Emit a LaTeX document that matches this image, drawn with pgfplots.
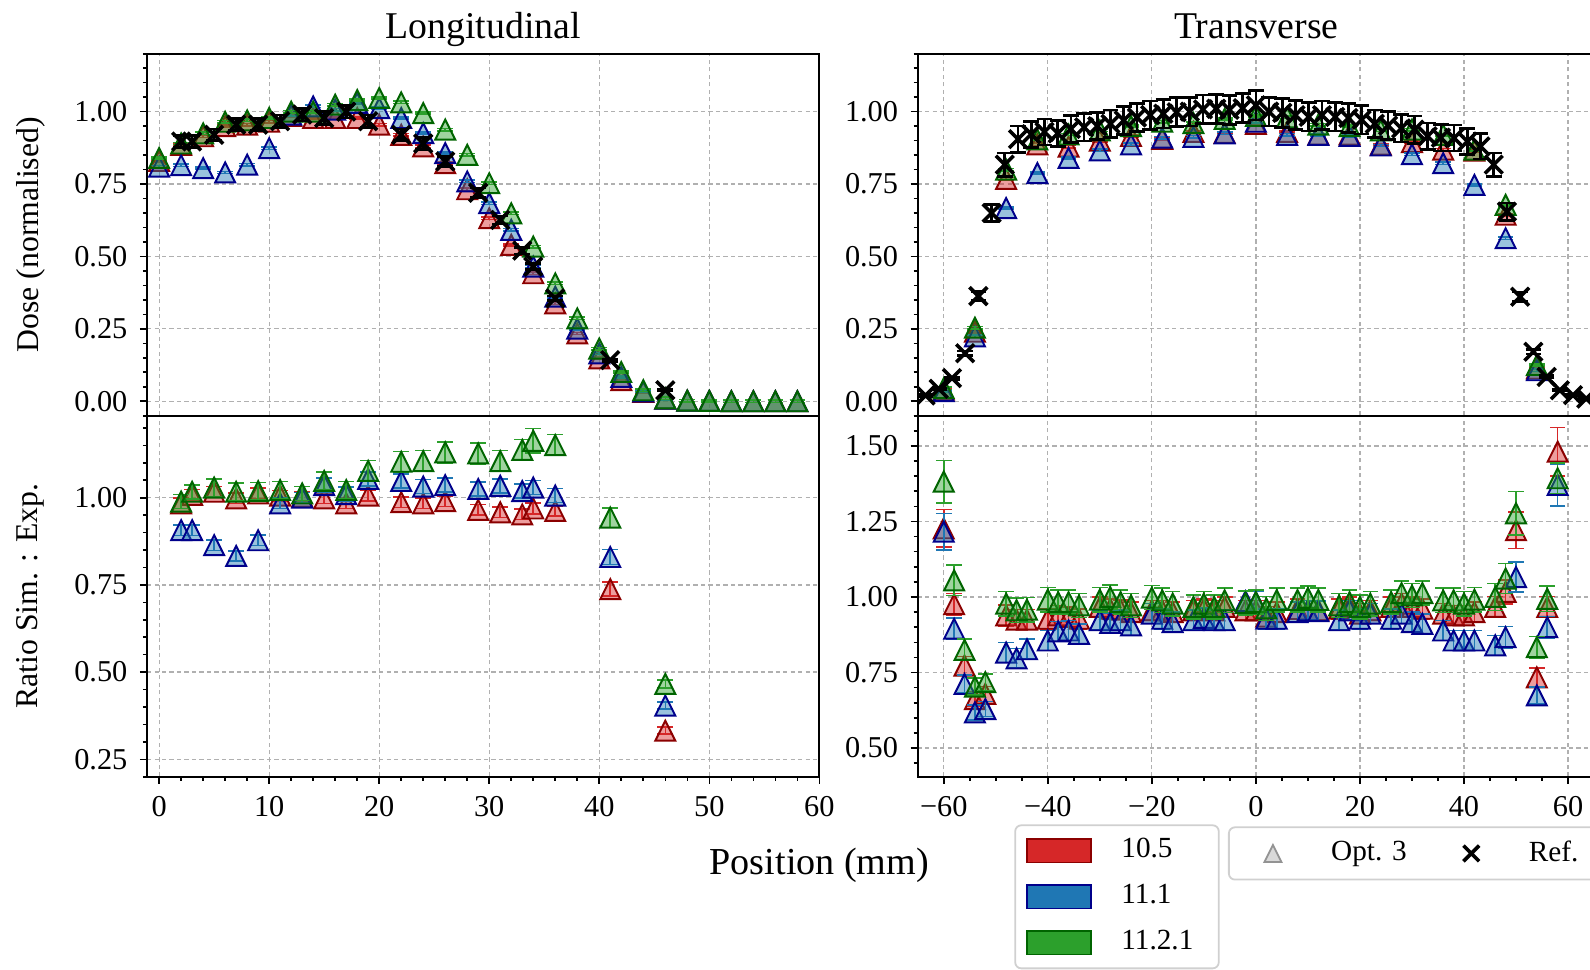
\documentclass[border=0pt]{standalone}
\usepackage{fontspec}
\setmainfont{Liberation Serif}
\usepackage{pgfplots}
\usepackage{pgfplotstable}
\pgfplotsset{compat=1.18}

\definecolor{cR}{HTML}{D62728}
\definecolor{cB}{HTML}{1F77B4}
\definecolor{cG}{HTML}{2CA02C}
\definecolor{cRd}{HTML}{8B0000}
\definecolor{cBd}{HTML}{00008B}
\definecolor{cGd}{HTML}{006400}
\definecolor{cGrid}{HTML}{B0B0B0}
\definecolor{cLeg}{HTML}{D0D0D0}

% matplotlib-like '^' and 'x' markers
\pgfdeclareplotmark{tri}{%
  \pgfpathmoveto{\pgfqpoint{0pt}{\pgfplotmarksize}}%
  \pgfpathlineto{\pgfqpoint{-\pgfplotmarksize}{-\pgfplotmarksize}}%
  \pgfpathlineto{\pgfqpoint{\pgfplotmarksize}{-\pgfplotmarksize}}%
  \pgfpathclose\pgfusepathqfillstroke}
\pgfdeclareplotmark{cross}{%
  \pgfpathmoveto{\pgfqpoint{-\pgfplotmarksize}{-\pgfplotmarksize}}%
  \pgfpathlineto{\pgfqpoint{\pgfplotmarksize}{\pgfplotmarksize}}%
  \pgfpathmoveto{\pgfqpoint{-\pgfplotmarksize}{\pgfplotmarksize}}%
  \pgfpathlineto{\pgfqpoint{\pgfplotmarksize}{-\pgfplotmarksize}}%
  \pgfusepathqstroke}

% longitudinal, simulations (every 2 mm)
\pgfplotstableread{
x r b g
0 0.83 0.81 0.84
2 0.885 0.815 0.89
4 0.915 0.805 0.925
6 0.95 0.79 0.965
8 0.955 0.817 0.97
10 0.965 0.874 0.978
12 0.985 0.99 1.00
14 0.978 1.018 1.00
16 0.978 1.007 1.024
18 0.978 1.03 1.04
20 0.955 1.012 1.047
22 0.92 0.978 1.032
24 0.88 0.926 0.995
26 0.822 0.857 0.938
28 0.732 0.759 0.851
30 0.632 0.684 0.753
32 0.54 0.592 0.649
34 0.442 0.465 0.534
36 0.338 0.361 0.407
38 0.234 0.251 0.286
40 0.148 0.165 0.182
42 0.073 0.084 0.101
44 0.032 0.034 0.038
46 0.009 0.009 0.01
48 0.002 0.002 0.002
50 0.001 0.001 0.001
52 0 0 0
54 0 0 0
56 0 0 0
58 0 0 0
}\tlsim

% longitudinal, measurement
\pgfplotstableread{
x y e
2 0.897 0.02
3 0.897 0.02
5 0.92 0.02
7 0.955 0.021
9 0.955 0.021
11 0.967 0.021
13 0.99 0.022
15 0.978 0.022
17 1.00 0.022
19 0.967 0.021
22 0.92 0.02
24 0.89 0.02
26 0.828 0.018
29 0.72 0.016
31 0.626 0.014
33 0.52 0.012
34 0.465 0.01
36 0.355 0.008
41 0.142 0.004
46 0.038 0.002
}\tlref

% transverse, simulations (every 6 mm)
\pgfplotstableread{
x r b g
-60 0.04 0.035 0.045
-54 0.24 0.224 0.254
-48 0.768 0.667 0.80
-42 0.887 0.788 0.904
-36 0.879 0.84 0.921
-30 0.90 0.866 0.935
-24 0.916 0.887 0.95
-18 0.906 0.91 0.965
-12 0.93 0.913 0.96
-6 0.927 0.925 0.975
0 0.958 0.965 0.985
6 0.93 0.92 0.98
12 0.921 0.92 0.955
18 0.921 0.916 0.95
24 0.886 0.883 0.935
30 0.895 0.853 0.938
36 0.869 0.822 0.92
42 0.865 0.747 0.869
48 0.644 0.563 0.678
54 0.113 0.107 0.125
}\trsim

% transverse, measurement (2.54 mm pitch)
\pgfplotstableread{
x y e
-63.50 0.020 0.003
-60.96 0.043 0.003
-58.42 0.080 0.004
-55.88 0.166 0.008
-53.34 0.363 0.016
-50.80 0.650 0.030
-48.26 0.817 0.040
-45.72 0.905 0.045
-43.18 0.922 0.045
-40.64 0.930 0.045
-38.10 0.925 0.045
-35.56 0.940 0.047
-33.02 0.946 0.047
-30.48 0.950 0.047
-27.94 0.958 0.048
-25.40 0.970 0.048
-22.86 0.980 0.049
-20.32 0.988 0.049
-17.78 0.993 0.050
-15.24 0.998 0.050
-12.70 1.000 0.050
-10.16 1.008 0.050
-7.62 1.010 0.050
-5.08 1.006 0.050
-2.54 1.012 0.050
0.00 1.022 0.051
2.54 1.000 0.050
5.08 0.996 0.050
7.62 0.988 0.050
10.16 0.982 0.049
12.70 0.988 0.049
15.24 0.982 0.049
17.78 0.978 0.049
20.32 0.972 0.049
22.86 0.958 0.048
25.40 0.952 0.048
27.94 0.942 0.047
30.48 0.938 0.047
33.02 0.915 0.046
35.56 0.910 0.046
38.10 0.909 0.045
40.64 0.897 0.045
43.18 0.880 0.044
45.72 0.817 0.040
48.26 0.655 0.030
50.80 0.361 0.016
53.34 0.171 0.008
55.88 0.084 0.004
58.42 0.038 0.003
60.96 0.021 0.003
63.50 0.009 0.003
}\trref

% longitudinal ratio sim : exp
\pgfplotstableread{
x r er b eb g eg
2 0.984 0.015 0.907 0.015 0.989 0.020
3 1.008 0.015 0.907 0.015 1.017 0.020
5 1.017 0.015 0.864 0.015 1.029 0.025
7 0.998 0.015 0.833 0.015 1.017 0.025
9 1.012 0.015 0.878 0.015 1.019 0.025
11 1.006 0.015 0.984 0.015 1.022 0.025
13 1.003 0.015 1.000 0.015 1.012 0.020
15 0.998 0.015 1.036 0.020 1.048 0.025
17 0.984 0.015 1.010 0.020 1.022 0.025
19 1.006 0.015 1.054 0.020 1.077 0.030
22 0.987 0.015 1.048 0.020 1.103 0.030
24 0.984 0.015 1.032 0.020 1.105 0.030
26 0.990 0.015 1.036 0.020 1.130 0.030
29 0.965 0.015 1.025 0.020 1.127 0.030
31 0.958 0.015 1.034 0.020 1.105 0.030
33 0.952 0.015 1.019 0.020 1.137 0.030
34 0.969 0.015 1.029 0.020 1.163 0.035
36 0.962 0.015 1.006 0.020 1.151 0.030
41 0.738 0.020 0.830 0.022 0.943 0.028
46 0.332 0.010 0.404 0.010 0.466 0.012
}\blrat

% transverse ratio sim : exp
\pgfplotstableread{
x r er b eb g eg
-60 1.227 0.062 1.216 0.060 1.382 0.070
-58 0.976 0.035 0.895 0.035 1.055 0.050
-56 0.773 0.030 0.712 0.030 0.825 0.035
-54 0.662 0.025 0.618 0.025 0.703 0.028
-52 0.679 0.025 0.629 0.025 0.718 0.028
-48 0.939 0.035 0.816 0.033 0.978 0.040
-46 0.925 0.033 0.797 0.033 0.956 0.040
-44 0.925 0.033 0.827 0.033 0.958 0.040
-40 0.928 0.033 0.856 0.033 0.991 0.040
-38 0.939 0.033 0.886 0.033 0.983 0.040
-36 0.934 0.033 0.889 0.033 0.983 0.040
-34 0.928 0.033 0.878 0.033 0.972 0.040
-30 0.967 0.033 0.923 0.033 0.991 0.040
-28 0.961 0.033 0.914 0.033 1.000 0.040
-26 0.958 0.033 0.923 0.033 0.983 0.040
-24 0.950 0.033 0.906 0.033 0.972 0.040
-20 0.956 0.033 0.945 0.033 0.998 0.040
-18 0.956 0.033 0.928 0.033 0.989 0.040
-16 0.950 0.033 0.917 0.033 0.978 0.040
-12 0.956 0.033 0.923 0.033 0.967 0.040
-10 0.961 0.033 0.931 0.033 0.978 0.040
-8 0.956 0.033 0.923 0.033 0.967 0.040
-6 0.967 0.033 0.923 0.033 0.989 0.040
-2 0.956 0.033 0.986 0.035 0.980 0.040
0 0.956 0.033 0.983 0.035 0.983 0.040
2 0.935 0.033 0.928 0.033 0.962 0.040
4 0.950 0.033 0.928 0.033 0.990 0.040
8 0.960 0.033 0.950 0.033 0.990 0.040
10 0.956 0.033 0.956 0.033 0.997 0.040
12 0.956 0.033 0.953 0.033 0.990 0.040
16 0.961 0.033 0.923 0.033 0.972 0.040
18 0.967 0.033 0.956 0.033 0.983 0.040
20 0.945 0.033 0.928 0.033 0.967 0.040
22 0.956 0.033 0.945 0.033 0.978 0.040
26 0.967 0.033 0.928 0.033 0.983 0.040
28 0.978 0.033 0.945 0.033 1.013 0.040
30 0.967 0.033 0.917 0.033 1.005 0.040
32 0.961 0.033 0.911 0.033 1.013 0.040
36 0.945 0.033 0.889 0.033 0.989 0.040
38 0.939 0.033 0.856 0.033 0.989 0.040
40 0.939 0.033 0.856 0.033 0.978 0.040
42 0.950 0.033 0.856 0.033 0.991 0.040
46 0.967 0.035 0.840 0.033 1.000 0.045
48 1.017 0.040 0.867 0.035 1.061 0.050
50 1.221 0.060 1.066 0.050 1.277 0.072
54 0.734 0.030 0.674 0.028 0.834 0.035
56 0.967 0.035 0.900 0.035 0.994 0.042
58 1.481 0.080 1.371 0.070 1.393 0.050
}\brrat

\pgfplotsset{
  panel/.style={scale only axis, anchor=south west,
    axis line style={line width=0.6pt},
    tick align=outside, xtick pos=bottom, ytick pos=left,
    grid=major,
    major grid style={cGrid, line width=0.35pt, dash pattern=on 1.2pt off 0.9pt},
    major tick length=0.7mm, minor tick length=0.4mm,
    tick style={black, line width=0.45pt},
    tick label style={font=\fontsize{8.5}{10}\selectfont},
    /pgf/number format/assume math mode=true,
    yticklabel style={/pgf/number format/.cd, fixed, fixed zerofill, precision=2},
    clip marker paths=true,
    every axis title/.style={at={(0.5,1)}, anchor=base, yshift=1.5mm,
      font=\fontsize{10.6}{12}\selectfont},
    every axis y label/.style={at={(axis description cs:-0.173,0.5)}, rotate=90,
      anchor=center, font=\fontsize{8.9}{10}\selectfont}},
  simbase/.style={only marks, mark=tri, mark size=2.8pt,
    error bars/y dir=both},
  simR/.style={simbase, mark options={draw=cRd, fill=cR, fill opacity=0.45, line width=0.55pt},
    error bars/error bar style={cR, line width=0.45pt},
    error bars/error mark options={rotate=90, cR, mark size=2.2pt, line width=0.45pt}},
  simB/.style={simbase, mark options={draw=cBd, fill=cB, fill opacity=0.45, line width=0.55pt},
    error bars/error bar style={cB, line width=0.45pt},
    error bars/error mark options={rotate=90, cB, mark size=2.2pt, line width=0.45pt}},
  simG/.style={simbase, mark options={draw=cGd, fill=cG, fill opacity=0.45, line width=0.55pt},
    error bars/error bar style={cG, line width=0.45pt},
    error bars/error mark options={rotate=90, cG, mark size=2.2pt, line width=0.45pt}},
  refx/.style={only marks, mark=cross, mark size=2.5pt,
    mark options={black, line width=1.0pt},
    error bars/y dir=both, error bars/y explicit,
    error bars/error bar style={black, line width=0.75pt},
    error bars/error mark options={rotate=90, black, mark size=2.2pt, line width=0.75pt}},
}

\begin{document}
\begin{tikzpicture}
\path[use as bounding box] (0,0) rectangle (156.8mm,95.6mm);

% ---------- top left ----------
\begin{axis}[panel, at={(14.5mm,54.6mm)}, width=66.3mm, height=35.7mm,
  xmin=-1.1, xmax=60, ymin=-0.05, ymax=1.2,
  xtick={0,10,...,60}, xticklabels={}, xmajorticks=false,
  ytick={0,0.25,0.5,0.75,1}, minor ytick={-0.05,0,...,1.21},
  title={Longitudinal}, ylabel={Dose (normalised)}]
\addplot[simR, error bars/y fixed=0.004] table[x=x,y=r]{\tlsim};
\addplot[simB, error bars/y fixed=0.004] table[x=x,y=b]{\tlsim};
\addplot[simG, error bars/y fixed=0.004] table[x=x,y=g]{\tlsim};
\addplot[refx] table[x=x,y=y,y error=e]{\tlref};
\end{axis}

% ---------- bottom left ----------
\begin{axis}[panel, at={(14.5mm,19.0mm)}, width=66.3mm, height=35.6mm,
  xmin=-1.1, xmax=60, ymin=0.2, ymax=1.235,
  xtick={0,10,...,60}, minor x tick num=4,
  ytick={0.25,0.5,0.75,1}, minor ytick={0.2,0.25,...,1.21},
  ylabel={Ratio Sim. : Exp.}, xlabel={Position (mm)},
  every axis x label/.style={at={(axis description cs:1.0,-0.244)}, anchor=center,
    font=\fontsize{10.7}{12}\selectfont},
  legend columns=2,
  legend style={at={(1.6078,-0.1376)}, anchor=north west, draw=cLeg, line width=0.5pt,
    rounded corners=0.6mm, fill=white, font=\fontsize{8.2}{9.5}\selectfont,
    inner xsep=3.5mm, inner ysep=0.8mm, nodes={inner sep=0.5mm}, cells={anchor=west},
    /tikz/every odd column/.style={column sep=4.4mm},
    /tikz/every even column/.style={column sep=5.1mm}}]
\addlegendimage{only marks, mark=tri, mark size=2.4pt,
  mark options={draw=gray!85, fill=gray!30, line width=0.5pt}}
\addlegendentry{Opt. 3}
\addlegendimage{only marks, mark=cross, mark size=2.2pt,
  mark options={black, line width=1.0pt}}
\addlegendentry{Ref.}
\addplot[simR, error bars/y explicit, forget plot] table[x=x,y=r,y error=er]{\blrat};
\addplot[simB, error bars/y explicit, forget plot] table[x=x,y=b,y error=eb]{\blrat};
\addplot[simG, error bars/y explicit, forget plot] table[x=x,y=g,y error=eg]{\blrat};
\end{axis}

% ---------- top right ----------
\begin{axis}[panel, at={(90.5mm,54.6mm)}, width=66.8mm, height=35.7mm,
  xmin=-65, xmax=65.2, ymin=-0.05, ymax=1.2,
  xtick={-60,-40,...,60}, xticklabels={}, xmajorticks=false,
  ytick={0,0.25,0.5,0.75,1}, minor ytick={-0.05,0,...,1.21},
  title={Transverse}]
\addplot[simR, error bars/y fixed=0.004] table[x=x,y=r]{\trsim};
\addplot[simB, error bars/y fixed=0.004] table[x=x,y=b]{\trsim};
\addplot[simG, error bars/y fixed=0.004] table[x=x,y=g]{\trsim};
\addplot[refx] table[x=x,y=y,y error=e]{\trref};
\end{axis}

% ---------- bottom right ----------
\begin{axis}[panel, at={(90.5mm,19.0mm)}, width=66.8mm, height=35.6mm,
  xmin=-65, xmax=65.2, ymin=0.405, ymax=1.6,
  xtick={-60,-40,...,60}, minor x tick num=3,
  xticklabels={−60,−40,−20,0,20,40,60},
  ytick={0.5,0.75,1,1.25,1.5}, minor ytick={0.45,0.5,...,1.61},
  legend style={at={(0.1426,-0.132)}, anchor=north west, draw=cLeg, line width=0.5pt,
    rounded corners=0.6mm, fill=white, font=\fontsize{8.2}{9.5}\selectfont,
    inner xsep=1.1mm, inner ysep=0.8mm, nodes={inner sep=0.5mm}, row sep=1.1mm,
    cells={anchor=west},
    /tikz/every odd column/.style={column sep=2.4mm}}]
\addlegendimage{legend image code/.code={\draw[sharp corners, fill=cR, draw=cRd, line width=0.5pt] (0mm,-1.15mm) rectangle (6.3mm,1.15mm);}}
\addlegendentry{\makebox[8.0mm][l]{10.5}}
\addlegendimage{legend image code/.code={\draw[sharp corners, fill=cB, draw=cBd, line width=0.5pt] (0mm,-1.15mm) rectangle (6.3mm,1.15mm);}}
\addlegendentry{\makebox[8.0mm][l]{11.1}}
\addlegendimage{legend image code/.code={\draw[sharp corners, fill=cG, draw=cGd, line width=0.5pt] (0mm,-1.15mm) rectangle (6.3mm,1.15mm);}}
\addlegendentry{\makebox[8.0mm][l]{11.2.1}}
\addplot[simR, error bars/y explicit, forget plot] table[x=x,y=r,y error=er]{\brrat};
\addplot[simB, error bars/y explicit, forget plot] table[x=x,y=b,y error=eb]{\brrat};
\addplot[simG, error bars/y explicit, forget plot] table[x=x,y=g,y error=eg]{\brrat};
\end{axis}
\end{tikzpicture}
\end{document}
